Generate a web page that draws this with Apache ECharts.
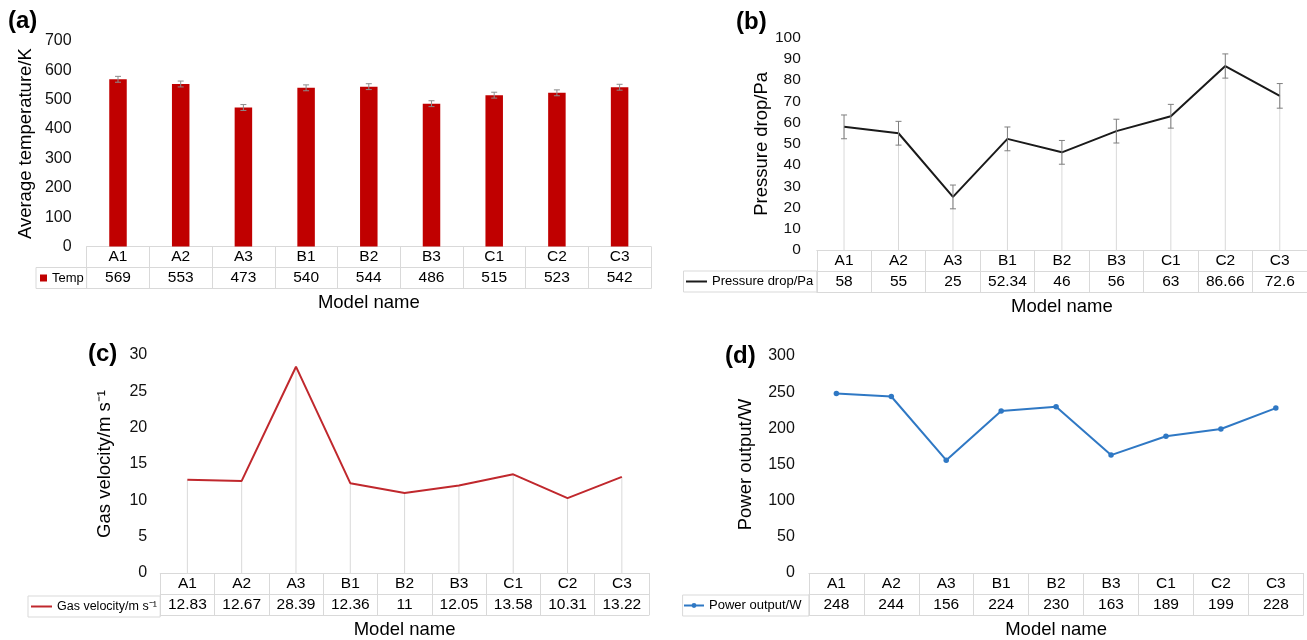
<!DOCTYPE html>
<html>
<head>
<meta charset="utf-8">
<script src="https://cdn.jsdelivr.net/npm/echarts@6/dist/echarts.min.js"></script>
<style>
html,body{margin:0;padding:0;background:#fff;}
#chart{width:1307px;height:640px;}
</style>
</head>
<body>
<div id="chart"></div>
<script>
// ---- data ----
const categories = ['A1','A2','A3','B1','B2','B3','C1','C2','C3'];
const temperature = [569, 553, 473, 540, 544, 486, 515, 523, 542];
const temperatureErr = [10, 10, 10, 10, 10, 10, 10, 10, 10];
const pressureDrop = [58, 55, 25, 52.34, 46, 56, 63, 86.66, 72.6];
const pressureErr = [5.6, 5.6, 5.6, 5.6, 5.6, 5.6, 5.6, 5.7, 5.8];
const gasVelocity = [12.83, 12.67, 28.39, 12.36, 11, 12.05, 13.58, 10.31, 13.22];
const powerOutput = [248, 244, 156, 224, 230, 163, 189, 199, 228];

const yTempAxis = {min: 0, max: 700, interval: 100};
const yPressureAxis = {min: 0, max: 100, interval: 10};
const yVelocityAxis = {min: 0, max: 30, interval: 5};
const yPowerAxis = {min: 0, max: 300, interval: 50};

// ---- layout ----
const FONT = "'Liberation Sans', Arial, Helvetica, sans-serif";
const ROW = 21;
const GRID_LINE = '#d9d9d9';

const panels = [
  {label:'(a)', labelX:8, labelY:9, left:86.65, top:40.8, width:564.3, height:205.7,
   yName:'Average temperature/K', nameGap:51, yAxis:yTempAxis, yFont:16, yMargin:15,
   values:temperature, seriesName:'Temp', legendCellLeft:36, legendLeft:40, legendFont:13},
  {label:'(b)', labelX:736, labelY:10, left:816.8, top:37.7, width:491.4, height:212.3,
   yName:'Pressure drop/Pa', nameGap:44, yAxis:yPressureAxis, yFont:15.5, yMargin:16,
   values:pressureDrop, seriesName:'Pressure drop/Pa', legendCellLeft:683.5, legendLeft:686, legendFont:13},
  {label:'(c)', labelX:88, labelY:342, left:160.2, top:355, width:488.8, height:220,
   yName:'Gas velocity/m s\u207B\u00B9', nameGap:46, yAxis:yVelocityAxis, yFont:16, yMargin:13,
   values:gasVelocity, seriesName:'Gas velocity/m s\u207B\u00B9', legendCellLeft:28, legendLeft:31, legendFont:12.5},
  {label:'(d)', labelX:725, labelY:344, left:808.9, top:356, width:494.4, height:218,
   yName:'Power output/W', nameGap:53, yAxis:yPowerAxis, yFont:16, yMargin:14,
   values:powerOutput, seriesName:'Power output/W', legendCellLeft:682.6, legendLeft:683, legendFont:13}
];

const grid = [], xAxis = [], yAxis = [], series = [], legend = [], title = [], graphic = [];

function errorSeries(gi, vals, errs, color) {
  return {
    type: 'custom', xAxisIndex: gi*3, yAxisIndex: gi, z: 5, silent: true,
    data: vals.map((v, i) => [i, v, errs[i]]),
    encode: {x: 0, y: 1},
    renderItem: function (params, api) {
      const x = api.value(0), v = api.value(1), e = api.value(2);
      const hi = api.coord([x, v + e]);
      const lo = api.coord([x, v - e]);
      const cap = 3;
      const st = {stroke: color, lineWidth: 1};
      return {type: 'group', children: [
        {type: 'line', shape: {x1: hi[0], y1: hi[1], x2: lo[0], y2: lo[1]}, style: st},
        {type: 'line', shape: {x1: hi[0]-cap, y1: hi[1], x2: hi[0]+cap, y2: hi[1]}, style: st},
        {type: 'line', shape: {x1: lo[0]-cap, y1: lo[1], x2: lo[0]+cap, y2: lo[1]}, style: st}
      ]};
    }
  };
}

panels.forEach((p, gi) => {
  grid.push({left: p.left, top: p.top, width: p.width, height: p.height});
  const axisBottom = p.top + p.height;
  const baseX = {
    gridIndex: gi, type: 'category', data: categories, position: 'bottom',
    boundaryGap: true, splitLine: {show: false},
    axisLine: {show: true, lineStyle: {color: GRID_LINE, width: 1}}
  };
  xAxis.push(Object.assign({}, baseX, {
    axisTick: {show: true, interval: 0, length: ROW*2, lineStyle: {color: GRID_LINE}},
    axisLabel: {interval: 0, color: '#000', fontSize: 15.5, fontFamily: FONT, margin: 3, lineHeight: 15}
  }));
  xAxis.push(Object.assign({}, baseX, {
    offset: ROW,
    axisTick: {show: false},
    axisLabel: {interval: 0, color: '#000', fontSize: 15.5, fontFamily: FONT, margin: 3, lineHeight: 15,
      formatter: (v, idx) => String(p.values[idx])}
  }));
  xAxis.push(Object.assign({}, baseX, {
    offset: ROW*2,
    axisTick: {show: false}, axisLabel: {show: false},
    name: 'Model name', nameLocation: 'middle', nameGap: 5,
    nameTextStyle: {fontSize: 18.5, color: '#000', fontFamily: FONT, verticalAlign: 'top'}
  }));
  yAxis.push({
    gridIndex: gi, type: 'value', min: p.yAxis.min, max: p.yAxis.max, interval: p.yAxis.interval,
    axisLine: {show: false}, axisTick: {show: false}, splitLine: {show: false},
    axisLabel: {color: '#111', fontSize: p.yFont, fontFamily: FONT, margin: p.yMargin},
    name: p.yName, nameLocation: 'middle', nameGap: p.nameGap,
    nameTextStyle: {fontSize: 18.5, color: '#000', fontFamily: FONT}
  });
  title.push({text: p.label, left: p.labelX, top: p.labelY, padding: 0,
    textStyle: {fontSize: 24, fontWeight: 'bold', color: '#000', fontFamily: FONT}});

  // legend cell border (value row, left of the table)
  graphic.push({type: 'rect', silent: true, z: 1,
    shape: {x: p.legendCellLeft, y: axisBottom + ROW, width: p.left - p.legendCellLeft, height: ROW},
    style: {fill: 'none', stroke: GRID_LINE, lineWidth: 1}});

  const rowCenter = axisBottom + ROW * 1.5;
  legend.push({
    left: p.legendLeft, top: rowCenter - 7, padding: 0, itemGap: 0,
    data: [p.seriesName], selectedMode: false,
    textStyle: {fontSize: p.legendFont, color: '#000', fontFamily: FONT, lineHeight: 14}
  });
});

// (a) bars with error bars
Object.assign(legend[0], {itemWidth: 7, itemHeight: 7, icon: 'rect'});
series.push({type: 'bar', name: 'Temp', xAxisIndex: 0, yAxisIndex: 0, data: temperature,
  barWidth: 17.5, itemStyle: {color: '#C00000'}, z: 2});
series.push(errorSeries(0, temperature, temperatureErr, '#8c8c8c'));

// (b) line with drop lines and error bars
Object.assign(legend[1], {itemWidth: 21, itemHeight: 2, icon: 'rect'});
series.push({type: 'bar', name: 'drop-b', xAxisIndex: 3, yAxisIndex: 1, data: pressureDrop,
  barWidth: 1, itemStyle: {color: GRID_LINE}, z: 1, silent: true});
series.push({type: 'line', name: 'Pressure drop/Pa', xAxisIndex: 3, yAxisIndex: 1, data: pressureDrop,
  symbol: 'none', lineStyle: {color: '#1a1a1a', width: 2}, itemStyle: {color: '#1a1a1a'}, z: 3});
series.push(errorSeries(1, pressureDrop, pressureErr, '#7f7f7f'));

// (c) line with drop lines
Object.assign(legend[2], {itemWidth: 21, itemHeight: 2, icon: 'rect'});
series.push({type: 'bar', name: 'drop-c', xAxisIndex: 6, yAxisIndex: 2, data: gasVelocity,
  barWidth: 1, itemStyle: {color: GRID_LINE}, z: 1, silent: true});
series.push({type: 'line', name: 'Gas velocity/m s\u207B\u00B9', xAxisIndex: 6, yAxisIndex: 2, data: gasVelocity,
  symbol: 'none', lineStyle: {color: '#C0282D', width: 2}, itemStyle: {color: '#C0282D'}, z: 3});

// (d) line with markers
Object.assign(legend[3], {itemWidth: 20, itemHeight: 6});
series.push({type: 'line', name: 'Power output/W', xAxisIndex: 9, yAxisIndex: 3, data: powerOutput,
  symbol: 'circle', symbolSize: 5.5, showAllSymbol: true,
  lineStyle: {color: '#2F78C4', width: 2}, itemStyle: {color: '#2F78C4'}, z: 3});

const chart = echarts.init(document.getElementById('chart'), null, {renderer: 'canvas'});
chart.setOption({
  backgroundColor: '#fff',
  animation: false,
  textStyle: {fontFamily: FONT},
  title, grid, xAxis, yAxis, legend, series, graphic
});
</script>
</body>
</html>
